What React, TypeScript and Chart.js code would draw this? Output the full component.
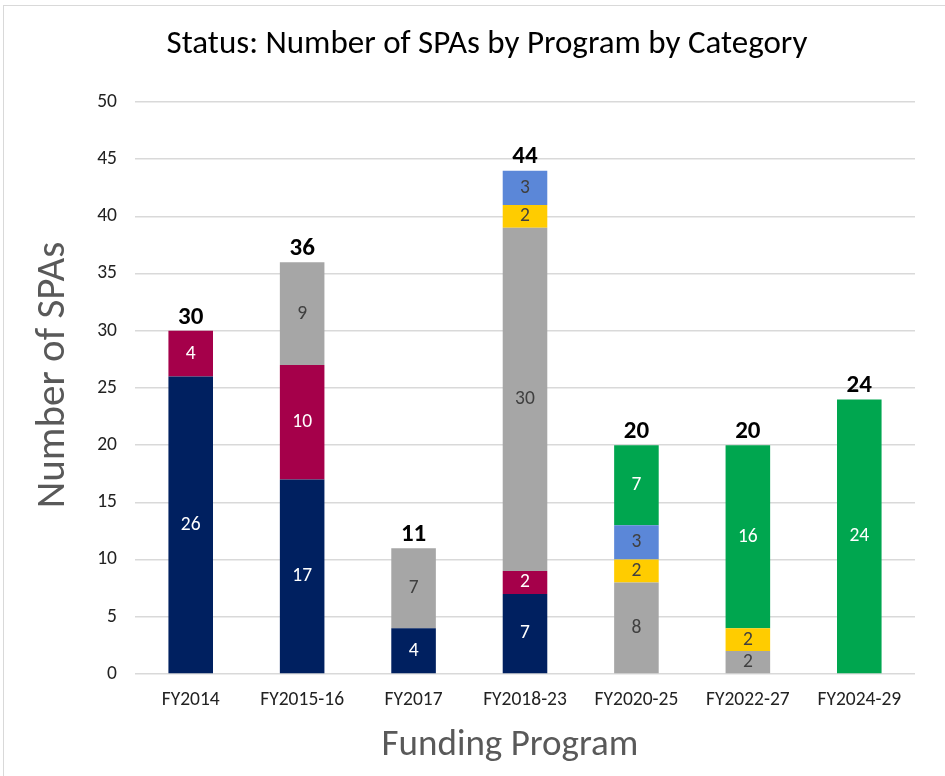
import React, { useEffect, useRef } from "react";
import { Chart, registerables } from "chart.js";

Chart.register(...registerables);

const categories = ["FY2014", "FY2015-16", "FY2017", "FY2018-23", "FY2020-25", "FY2022-27", "FY2024-29"];
const navyValues = [26, 17, 4, 7, 0, 0, 0];
const crimsonValues = [4, 10, 0, 2, 0, 0, 0];
const grayValues = [0, 9, 7, 30, 8, 2, 0];
const yellowValues = [0, 0, 0, 2, 2, 2, 0];
const blueValues = [0, 0, 0, 3, 3, 0, 0];
const greenValues = [0, 0, 0, 0, 7, 16, 24];
const yTicks = [0, 5, 10, 15, 20, 25, 30, 35, 40, 45, 50];
const titleText = "Status: Number of SPAs by Program by Category";
const xTitleText = "Funding Program";
const yTitleText = "Number of SPAs";

const FONT = "Carlito, Lato, sans-serif";

const labelPlugin = {
  id: "segLabels",
  afterDatasetsDraw(chart: any) {
    const ctx = chart.ctx;
    ctx.save();
    ctx.textAlign = "center";
    chart.data.datasets.forEach((ds: any, di: number) => {
      const meta = chart.getDatasetMeta(di);
      meta.data.forEach((bar: any, i: number) => {
        const v = ds.data[i];
        if (!v) return;
        ctx.font = `19.5px ${FONT}`;
        ctx.fillStyle = ds.labelColor;
        ctx.textBaseline = "middle";
        ctx.fillText(String(v), bar.x, (bar.y + bar.base) / 2);
      });
    });
    const n = chart.data.labels.length;
    const lastMeta = chart.getDatasetMeta(chart.data.datasets.length - 1);
    for (let i = 0; i < n; i++) {
      let total = 0;
      chart.data.datasets.forEach((ds: any) => (total += ds.data[i]));
      const y = chart.scales.y.getPixelForValue(total);
      const x = lastMeta.data[i].x;
      ctx.font = `bold 25px ${FONT}`;
      ctx.fillStyle = "#000";
      ctx.textBaseline = "bottom";
      ctx.fillText(String(total), x, y - 1);
    }
    // chart title
    ctx.font = `33px ${FONT}`;
    ctx.fillStyle = "#000";
    ctx.textBaseline = "middle";
    ctx.fillText(titleText, 487, 45);
    // x axis title
    ctx.font = `37px ${FONT}`;
    ctx.fillStyle = "#595959";
    ctx.textBaseline = "alphabetic";
    ctx.fillText(xTitleText, 510, 755);
    // y axis title
    ctx.translate(64, 375);
    ctx.rotate(-Math.PI / 2);
    ctx.font = `41px ${FONT}`;
    ctx.fillText(yTitleText, 0, 0);
    ctx.restore();
  },
};

export default function App() {
  const ref = useRef<HTMLCanvasElement>(null);
  useEffect(() => {
    const mk = (label: string, data: number[], color: string, labelColor: string) => ({
      label,
      data,
      backgroundColor: color,
      borderWidth: 0,
      labelColor,
    });
    const chart = new Chart(ref.current!, {
      type: "bar",
      data: {
        labels: categories,
        datasets: [
          mk("Navy", navyValues, "#002060", "#ffffff"),
          mk("Crimson", crimsonValues, "#A5004A", "#ffffff"),
          mk("Gray", grayValues, "#A6A6A6", "#404040"),
          mk("Yellow", yellowValues, "#FFCC00", "#404040"),
          mk("Blue", blueValues, "#5B87D8", "#404040"),
          mk("Green", greenValues, "#00A64F", "#ffffff"),
        ] as any,
      },
      options: {
        animation: false,
        responsive: false,
        maintainAspectRatio: false,
        layout: { padding: { left: 0, right: 30, top: 102, bottom: 0 } },
        datasets: { bar: { categoryPercentage: 1, barPercentage: 0.4 } } as any,
        plugins: {
          legend: { display: false },
          tooltip: { enabled: false },
          title: { display: false },
        },
        scales: {
          x: {
            stacked: true,
            grid: { display: false, drawTicks: false },
            border: { display: false },
            ticks: { color: "#222", font: { family: FONT, size: 19.5 }, padding: 14, maxRotation: 0 },
            title: { display: false },
            afterFit: (s: any) => {
              s.height = 102;
            },
          },
          y: {
            stacked: true,
            min: 0,
            max: 50,
            afterBuildTicks: (s: any) => {
              s.ticks = yTicks.map((v) => ({ value: v }));
            },
            grid: { color: "#D9D9D9", lineWidth: 1.5, drawTicks: false },
            border: { display: false },
            ticks: { color: "#222", font: { family: FONT, size: 19.5 }, padding: 18 },
            title: { display: false },
            afterFit: (s: any) => {
              s.width = 135;
            },
          },
        },
      } as any,
      plugins: [labelPlugin],
    });
    return () => chart.destroy();
  }, []);
  return (
    <div style={{ position: "fixed", left: 0, top: 0, width: 945, height: 776, background: "#fff" }}>
      <div
        style={{
          position: "absolute",
          left: 3,
          top: 5,
          width: 950,
          height: 780,
          border: "1px solid #D9D9D9",
          boxSizing: "border-box",
        }}
      />
      <canvas ref={ref} width={945} height={776} style={{ position: "absolute", left: 0, top: 0 }} />
    </div>
  );
}
